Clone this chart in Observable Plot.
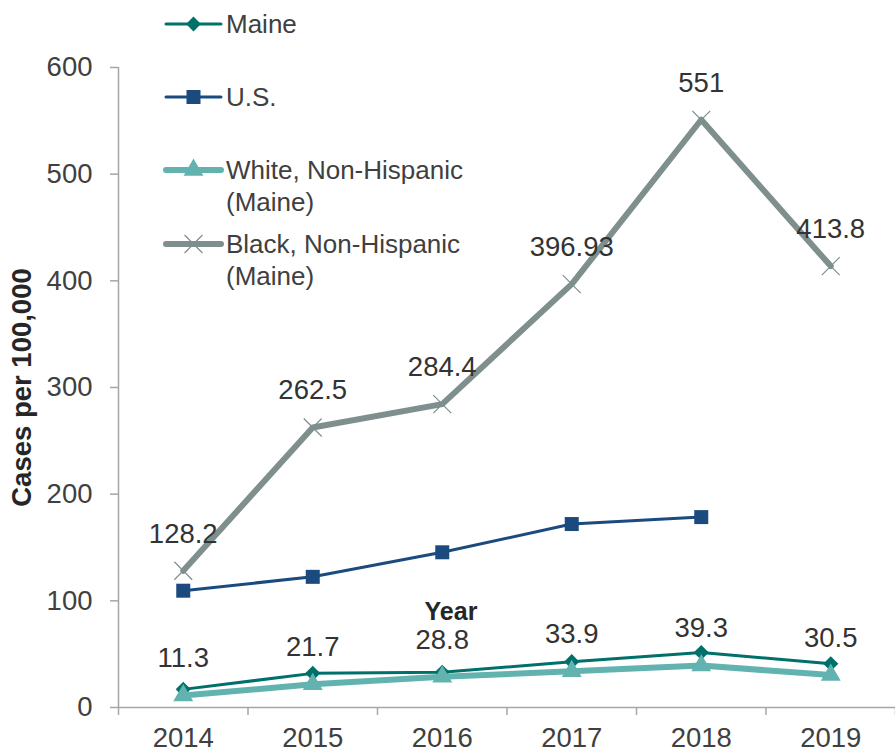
<!DOCTYPE html>
<html><head><meta charset="utf-8">
<script src="https://cdn.jsdelivr.net/npm/d3@7"></script>
<script src="https://cdn.jsdelivr.net/npm/@observablehq/plot@0.6"></script>
<style>
body{margin:0;background:#fff;font-family:"Liberation Sans",Arial,sans-serif;}
#wrap{position:relative;width:895px;height:752px;overflow:hidden;}
#legend{position:absolute;left:0;top:0;width:895px;height:300px;pointer-events:none;}
.lg{position:absolute;left:226px;font-size:26px;color:#404040;line-height:32px;white-space:nowrap;}
</style></head><body><div id="wrap"></div>
<script>
const years = [2014, 2015, 2016, 2017, 2018, 2019];
const maine = [17, 32, 33, 43, 51.5, 41];
const usYears = [2014, 2015, 2016, 2017, 2018];
const us = [109.5, 122.5, 145.5, 172, 178.5];
const white = [11.3, 21.7, 28.8, 33.9, 39.3, 30.5];
const black = [128.2, 262.5, 284.4, 396.93, 551, 413.8];
const yTicks = [0, 100, 200, 300, 400, 500, 600];
const seriesNames = ["Maine", "U.S.", "White, Non-Hispanic (Maine)", "Black, Non-Hispanic (Maine)"];
const colors = {maine: "#00706B", us: "#1B4A7E", white: "#62B3AF", black: "#7E8F8E"};

const dMaine = years.map((y, i) => ({year: y, v: maine[i]}));
const dUS = usYears.map((y, i) => ({year: y, v: us[i]}));
const dWhite = years.map((y, i) => ({year: y, v: white[i]}));
const dBlack = years.map((y, i) => ({year: y, v: black[i]}));
const bounds = [years[0] - 0.5, ...years.map(y => y + 0.5)];
const fmt = v => String(v);
const font = '"Liberation Sans", Arial, sans-serif';

const chart = Plot.plot({
  width: 895, height: 752,
  marginLeft: 118, marginRight: 0, marginTop: 67, marginBottom: 45,
  style: {fontFamily: font, fontSize: "27px", background: "transparent", overflow: "visible"},
  x: {domain: [bounds[0], bounds[bounds.length - 1]], axis: null},
  y: {domain: [0, 600], axis: null},
  marks: [
    Plot.ruleY([0], {stroke: "#A6A6A6", strokeWidth: 1.5}),
    Plot.ruleX([bounds[0]], {stroke: "#A6A6A6", strokeWidth: 1.5}),
    Plot.axisY({ticks: yTicks, tickSize: 8, tickFormat: () => "", stroke: "#A6A6A6", strokeWidth: 1.5, label: null}),
    Plot.axisY({ticks: yTicks, tickSize: 0, tickPadding: 26, fill: "#404040", fontSize: 27.5, label: null}),
    Plot.axisX({ticks: bounds, tickSize: 8, tickFormat: () => "", stroke: "#A6A6A6", strokeWidth: 1.5, label: null}),
    Plot.axisX({ticks: years, tickSize: 0, tickPadding: 20, tickFormat: fmt, fill: "#404040", fontSize: 27.5, label: null}),
    Plot.text(["Cases per 100,000"], {frameAnchor: "left", textAnchor: "middle", lineAnchor: "middle", rotate: -90, dx: -96, fontWeight: "bold", fontSize: 27.5, fill: "#262626"}),
    Plot.text(["Year"], {frameAnchor: "bottom", lineAnchor: "middle", dx: -56, dy: -96, fontWeight: "bold", fontSize: 25, fill: "#262626"}),
    // Maine
    Plot.line(dMaine, {x: "year", y: "v", stroke: colors.maine, strokeWidth: 3}),
    Plot.dot(dMaine, {x: "year", y: "v", symbol: "diamond2", r: 6.8, fill: colors.maine, stroke: "none"}),
    // U.S.
    Plot.line(dUS, {x: "year", y: "v", stroke: colors.us, strokeWidth: 3}),
    Plot.dot(dUS, {x: "year", y: "v", symbol: "square", r: 7.9, fill: colors.us, stroke: "none"}),
    // White
    Plot.line(dWhite, {x: "year", y: "v", stroke: colors.white, strokeWidth: 6}),
    Plot.dot(dWhite, {x: "year", y: "v", symbol: "triangle", r: 7.4, fill: colors.white, stroke: "none"}),
    Plot.text(dWhite, {x: "year", y: "v", text: d => fmt(d.v), dy: -37, fill: "#333333", fontSize: 27.5}),
    // Black
    Plot.line(dBlack, {x: "year", y: "v", stroke: colors.black, strokeWidth: 6}),
    Plot.dot(dBlack, {x: "year", y: "v", symbol: "times", r: 8.2, stroke: colors.black, strokeWidth: 1.2, fill: "none"}),
    Plot.text(dBlack, {x: "year", y: "v", text: d => fmt(d.v), dy: -37, fill: "#333333", fontSize: 27.5})
  ]
});

const wrap = document.getElementById("wrap");
wrap.appendChild(chart);

// Legend (HTML overlay)
const legend = document.createElement("div");
legend.id = "legend";
const sym = d3.create("svg").attr("width", 895).attr("height", 300).style("position", "absolute").style("left", "0").style("top", "0");
const items = [
  {name: seriesNames[0], y: 24, color: colors.maine, w: 3, shape: d3.symbolDiamond2, size: 140, fill: true},
  {name: seriesNames[1], y: 97, color: colors.us, w: 3, shape: d3.symbolSquare, size: 196, fill: true},
  {name: seriesNames[2], y: 170, color: colors.white, w: 6, shape: d3.symbolTriangle, size: 172, fill: true},
  {name: seriesNames[3], y: 244, color: colors.black, w: 6, shape: d3.symbolTimes, size: 212, fill: false}
];
items.forEach(it => {
  sym.append("line").attr("x1", 166).attr("x2", 221).attr("y1", it.y).attr("y2", it.y)
    .attr("stroke", it.color).attr("stroke-width", it.w).attr("stroke-linecap", "round");
  sym.append("path").attr("d", d3.symbol(it.shape, it.size)()).attr("transform", `translate(193.5,${it.y})`)
    .attr("fill", it.fill ? it.color : "none").attr("stroke", it.fill ? "none" : it.color).attr("stroke-width", 1.2);
  const parts = it.name.split(" (");
  const t = document.createElement("div");
  t.className = "lg";
  t.style.top = (it.y - 16) + "px";
  t.innerHTML = parts.length > 1 ? parts[0] + "<br>(" + parts[1] : parts[0];
  legend.appendChild(t);
});
legend.prepend(sym.node());
wrap.appendChild(legend);
</script>
</body></html>
